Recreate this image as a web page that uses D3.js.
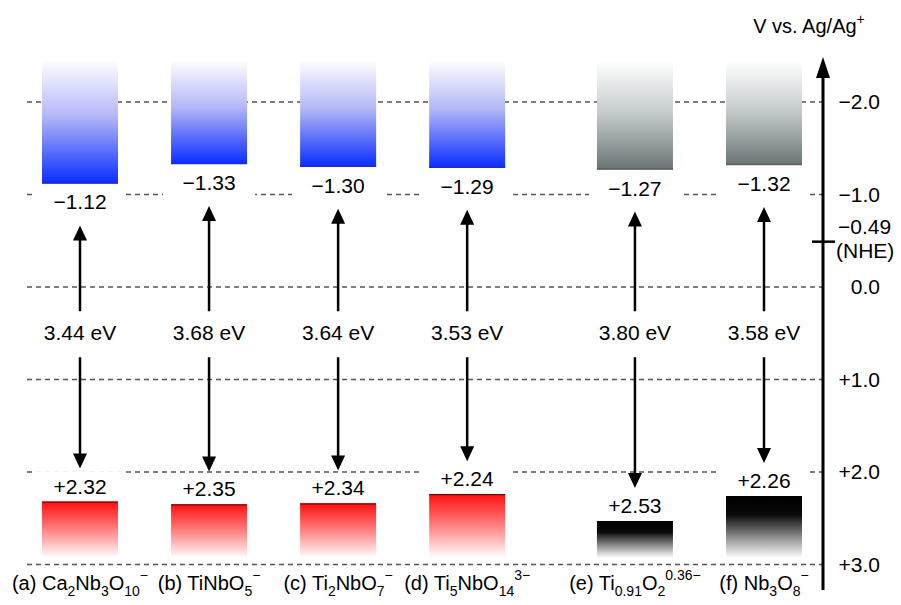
<!DOCTYPE html>
<html>
<head>
<meta charset="utf-8">
<script src="https://cdn.jsdelivr.net/npm/d3@7"></script>
<style>
  body { margin: 0; background: #fff; }
  svg { display: block; }
  text { font-family: "Liberation Sans", Arial, sans-serif; fill: #000; }
</style>
</head>
<body>
<div id="chart"></div>
<script>
// band edges (V vs. Ag/Ag+)
const letters = ["a", "b", "c", "d", "e", "f"];
const formulas = [
    [["Ca"], ["2", "sub"], ["Nb"], ["3", "sub"], ["O"], ["10", "sub"], ["\u2212", "sup"]],
    [["TiNbO"], ["5", "sub"], ["\u2212", "sup"]],
    [["Ti"], ["2", "sub"], ["NbO"], ["7", "sub"], ["\u2212", "sup"]],
    [["Ti"], ["5", "sub"], ["NbO"], ["14", "sub"], ["3\u2212", "sup"]],
    [["Ti"], ["0.91", "sub"], ["O"], ["2", "sub"], ["0.36\u2212", "sup"]],
    [["Nb"], ["3", "sub"], ["O"], ["8", "sub"], ["\u2212", "sup"]]
];
const cbEdge = [-1.12, -1.33, -1.30, -1.29, -1.27, -1.32];
const vbEdge = [2.32, 2.35, 2.34, 2.24, 2.53, 2.26];
const bandGap = [3.44, 3.68, 3.64, 3.53, 3.80, 3.58];
const group = ["A", "A", "A", "A", "B", "B"];
const axisTicks = [-2, -1, 0, 1, 2, 3];
const nhe = -0.49;

const WIDTH = 901, HEIGHT = 605;
const BAR_W = 76;
const AXIS_X = 823;

const svg = d3.select("#chart")
    .append("svg")
        .attr("width", WIDTH)
        .attr("height", HEIGHT);

const y = d3.scaleLinear()
    .domain([-2, 3])
    .range([102, 564.5]);

// columns, with an extra gap before the second group
const x = d3.scaleLinear()
    .domain([0, 5.3])
    .range([80, 764]);
const xPos = i => x(i + (group[i] === "B" ? 0.3 : 0));

const fmt = v => v === 0 ? "0.0" : (v < 0 ? "\u2212" : "+") + d3.format(".1f")(Math.abs(v));
const fmt2 = v => (v < 0 ? "\u2212" : "+") + d3.format(".2f")(Math.abs(v));

// gradients
const defs = svg.append("defs");
function grad(id, stops) {
    const g = defs.append("linearGradient")
        .attr("id", id)
        .attr("x1", 0).attr("y1", 0).attr("x2", 0).attr("y2", 1);
    stops.forEach(s => g.append("stop").attr("offset", s[0]).attr("stop-color", s[1]));
}
grad("cbA", [[0, "#ffffff"], [0.12, "#ebebfc"], [0.45, "#b4b8f6"], [1, "#0a2cff"]]);
grad("cbB", [[0, "#ffffff"], [0.12, "#f1f3f3"], [0.5, "#c2c8c8"], [1, "#6a7474"]]);
grad("vbA", [[0, "#ff1010"], [0.45, "#ff7676"], [1, "#ffffff"]]);
grad("vbB", [[0, "#000000"], [0.3, "#0a0a0a"], [0.65, "#8a8a8a"], [1, "#ffffff"]]);
const cbFill = d3.scaleOrdinal().domain(["A", "B"]).range(["url(#cbA)", "url(#cbB)"]);
const vbFill = d3.scaleOrdinal().domain(["A", "B"]).range(["url(#vbA)", "url(#vbB)"]);
const cbEdgeCol = d3.scaleOrdinal().domain(["A", "B"]).range(["#1a2ad8", "#5a6262"]);
const vbEdgeCol = d3.scaleOrdinal().domain(["A", "B"]).range(["#7a0000", "#000000"]);

const arrowDefs = [["ahUp", "M0,0 L-7,15 L7,15 Z"], ["ahDown", "M0,0 L-7,-15 L7,-15 Z"]];

// dashed reference lines
svg.append("g")
    .selectAll("line")
    .data(axisTicks)
    .enter().append("line")
        .attr("x1", 27)
        .attr("x2", AXIS_X)
        .attr("y1", d => y(d))
        .attr("y2", d => y(d))
        .attr("stroke", "#555")
        .attr("stroke-width", 1.5)
        .attr("stroke-dasharray", "5,4");

const idx = d3.range(letters.length);
const cols = svg.append("g").selectAll("g")
    .data(idx)
    .enter().append("g");

// white masks behind the edge labels
cols.append("rect")
    .attr("x", i => xPos(i) - 46)
    .attr("y", i => y(cbEdge[i]) + 7)
    .attr("width", 92)
    .attr("height", 28)
    .attr("fill", "#fff");
cols.append("rect")
    .attr("x", i => xPos(i) - 46)
    .attr("y", i => y(vbEdge[i]) - 30.5)
    .attr("width", 92)
    .attr("height", 27)
    .attr("fill", "#fff");

// conduction band blocks
cols.append("rect")
    .attr("x", i => xPos(i) - BAR_W / 2)
    .attr("y", y(-2.45))
    .attr("width", BAR_W)
    .attr("height", i => y(cbEdge[i]) - y(-2.45))
    .attr("fill", i => cbFill(group[i]));
cols.append("line")
    .attr("x1", i => xPos(i) - BAR_W / 2)
    .attr("x2", i => xPos(i) + BAR_W / 2)
    .attr("y1", i => y(cbEdge[i]) - 0.5)
    .attr("y2", i => y(cbEdge[i]) - 0.5)
    .attr("stroke", i => cbEdgeCol(group[i]))
    .attr("stroke-width", 1.5);

// valence band blocks
cols.append("rect")
    .attr("x", i => xPos(i) - BAR_W / 2)
    .attr("y", i => y(vbEdge[i]))
    .attr("width", BAR_W)
    .attr("height", i => y(2.93) - y(vbEdge[i]))
    .attr("fill", i => vbFill(group[i]));
cols.append("line")
    .attr("x1", i => xPos(i) - BAR_W / 2)
    .attr("x2", i => xPos(i) + BAR_W / 2)
    .attr("y1", i => y(vbEdge[i]) + 0.5)
    .attr("y2", i => y(vbEdge[i]) + 0.5)
    .attr("stroke", i => vbEdgeCol(group[i]))
    .attr("stroke-width", 1.2);

// edge values
cols.append("text")
    .attr("x", i => xPos(i))
    .attr("y", i => y(cbEdge[i]) + 26)
    .attr("text-anchor", "middle")
    .attr("font-size", 21)
    .text(i => fmt2(cbEdge[i]));
cols.append("text")
    .attr("x", i => xPos(i))
    .attr("y", i => y(vbEdge[i]) - 8)
    .attr("text-anchor", "middle")
    .attr("font-size", 21)
    .text(i => fmt2(vbEdge[i]));

// band gap arrows
const gapY = y(0.5);
cols.append("line")
    .attr("x1", i => xPos(i)).attr("x2", i => xPos(i))
    .attr("y1", i => y(cbEdge[i]) + 42 + 12)
    .attr("y2", gapY - 22)
    .attr("stroke", "#000").attr("stroke-width", 2.5);
cols.append("line")
    .attr("x1", i => xPos(i)).attr("x2", i => xPos(i))
    .attr("y1", gapY + 24)
    .attr("y2", i => y(vbEdge[i]) - 33 - 12)
    .attr("stroke", "#000").attr("stroke-width", 2.5);
cols.append("path")
    .attr("d", arrowDefs[0][1])
    .attr("transform", i => `translate(${xPos(i)}, ${y(cbEdge[i]) + 42})`)
    .attr("fill", "#000");
cols.append("path")
    .attr("d", arrowDefs[1][1])
    .attr("transform", i => `translate(${xPos(i)}, ${y(vbEdge[i]) - 33})`)
    .attr("fill", "#000");
cols.append("text")
    .attr("x", i => xPos(i))
    .attr("y", gapY + 7)
    .attr("text-anchor", "middle")
    .attr("font-size", 21)
    .text(i => bandGap[i].toFixed(2) + " eV");

// material labels with sub/superscripts
cols.append("text")
    .attr("x", i => xPos(i))
    .attr("y", 590)
    .attr("text-anchor", "middle")
    .attr("font-size", 20)
    .each(function(i) {
        const t = d3.select(this);
        let off = 0;
        t.append("tspan").text(`(${letters[i]}) `);
        formulas[i].forEach(([s, kind]) => {
            const target = kind === "sub" ? 6 : kind === "sup" ? -10 : 0;
            t.append("tspan")
                .attr("dy", target - off)
                .attr("font-size", kind ? 14 : 20)
                .text(s);
            off = target;
        });
    });

// potential axis
const axis = svg.append("g");
axis.append("line")
    .attr("x1", AXIS_X).attr("x2", AXIS_X)
    .attr("y1", 590).attr("y2", 70)
    .attr("stroke", "#000").attr("stroke-width", 3);
axis.append("path")
    .attr("d", `M${AXIS_X},57 L${AXIS_X - 7},78 L${AXIS_X + 7},78 Z`)
    .attr("fill", "#000");
axis.append("line")
    .attr("x1", AXIS_X - 11).attr("x2", AXIS_X + 12)
    .attr("y1", y(nhe)).attr("y2", y(nhe))
    .attr("stroke", "#000").attr("stroke-width", 2.5);
axis.selectAll(".tick")
    .data(axisTicks)
    .enter().append("text")
        .attr("class", "tick")
        .attr("x", 880)
        .attr("y", d => y(d) + 7)
        .attr("text-anchor", "end")
        .attr("font-size", 21)
        .text(fmt);
axis.append("text")
    .attr("x", 838)
    .attr("y", y(nhe) - 8)
    .attr("font-size", 21)
    .text(fmt2(nhe));
axis.append("text")
    .attr("x", 836)
    .attr("y", y(nhe) + 16)
    .attr("font-size", 21)
    .text("(NHE)");

const title = axis.append("text")
    .attr("x", 809)
    .attr("y", 33)
    .attr("text-anchor", "middle")
    .attr("font-size", 20);
title.append("tspan").text("V vs. Ag/Ag");
title.append("tspan").attr("dy", -9).attr("font-size", 14).text("+");
</script>
</body>
</html>
